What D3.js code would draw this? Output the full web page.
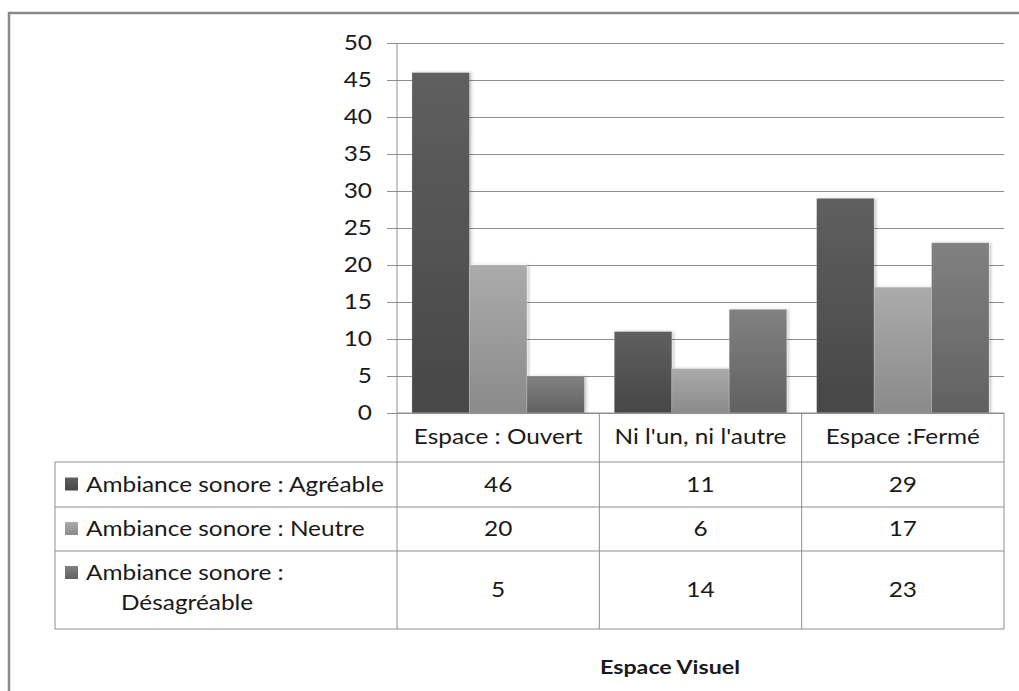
<!DOCTYPE html>
<html><head><meta charset="utf-8">
<script src="https://cdn.jsdelivr.net/npm/d3@7/dist/d3.min.js"></script>
<style>html,body{margin:0;padding:0;background:#fff;}svg{display:block;}</style>
</head><body>
<svg id="c" width="1019" height="691"></svg>
<script>
const categories = ["Espace : Ouvert", "Ni l'un, ni l'autre", "Espace :Fermé"];
const seriesNames = ["Ambiance sonore : Agréable", "Ambiance sonore : Neutre", "Ambiance sonore : Désagréable"];
const agreable = [46, 11, 29];
const neutre = [20, 6, 17];
const desagreable = [5, 14, 23];
const yTicks = [0, 5, 10, 15, 20, 25, 30, 35, 40, 45, 50];
const axisTitle = "Espace Visuel";

const seriesValues = [agreable, neutre, desagreable];
const svg = d3.select("#c");
const FONT = "Lato, 'Open Sans', sans-serif";
const SX = 1.19;
const FS = 20.5;
const textCol = "#1a1a1a";
const lineCol = "#8e8e8e";

const plotL = 397, plotR = 1004, plotT = 43, plotB = 413;
const rowLines = [413, 462, 507, 551, 629];
const tableL = 55;

// gradients
const defs = svg.append("defs");
const grad = [["#5f5f5f", "#474747"], ["#ababab", "#8a8a8a"], ["#818181", "#616161"]];
grad.forEach((g, i) => {
  const lg = defs.append("linearGradient").attr("id", "g" + i).attr("x1", 0).attr("y1", 0).attr("x2", 0).attr("y2", 1);
  lg.append("stop").attr("offset", "0%").attr("stop-color", g[0]);
  lg.append("stop").attr("offset", "100%").attr("stop-color", g[1]);
});
const f = defs.append("filter").attr("id", "sh").attr("x", "-20%").attr("y", "-5%").attr("width", "140%").attr("height", "110%");
f.append("feDropShadow").attr("dx", 2).attr("dy", 0).attr("stdDeviation", 1.5).attr("flood-color", "#000").attr("flood-opacity", 0.22);

// outer border
svg.append("path").attr("d", "M9,700 L9,13 L1030,13").attr("fill", "none").attr("stroke", "#8a8a8a").attr("stroke-width", 2.5);

const y = d3.scaleLinear().domain([0, 50]).range([plotB, plotT]);
const x0 = d3.scaleBand().domain(categories).range([plotL, plotR]);
const bw = x0.bandwidth();
const x1 = d3.scaleBand().domain(seriesNames).range([bw * 0.074, bw * 0.926]);

// gridlines + tick labels
const ax = svg.append("g").attr("transform", "translate(387,0)")
  .call(d3.axisLeft(y).tickValues(yTicks).tickSize(-(plotR - 387)).tickPadding(15).tickFormat(d3.format("d")));
ax.select(".domain").remove();
ax.selectAll(".tick line").attr("stroke", lineCol).attr("stroke-width", 1);
ax.selectAll(".tick text").attr("fill", textCol).attr("font-family", FONT).attr("font-size", FS)
  .attr("dy", "0.34em")
  .each(function () {
    const t = d3.select(this);
    const xx = +t.attr("x");
    t.attr("x", null).attr("transform", `translate(${xx},0) scale(${SX},1)`);
  });

// bars
const groups = svg.append("g").selectAll("g").data(categories).join("g")
  .attr("transform", d => `translate(${x0(d)},0)`);
groups.selectAll("rect").data((c, ci) => seriesNames.map((s, si) => ({ s, si, v: seriesValues[si][ci] })))
  .join("rect")
  .attr("x", d => x1(d.s)).attr("width", x1.bandwidth())
  .attr("y", d => y(d.v)).attr("height", d => y(0) - y(d.v))
  .attr("fill", d => `url(#g${d.si})`)
  .attr("stroke", "rgba(255,255,255,0.18)").attr("stroke-width", 1)
  .attr("filter", "url(#sh)");

// table lines
const tl = svg.append("g").attr("stroke", lineCol).attr("stroke-width", 1).attr("fill", "none");
tl.append("line").attr("x1", plotL).attr("x2", plotL).attr("y1", plotT).attr("y2", rowLines[4]);
tl.append("line").attr("x1", plotL).attr("x2", plotR).attr("y1", plotB).attr("y2", plotB);
categories.forEach(c => {
  tl.append("line").attr("x1", x0(c) + bw).attr("x2", x0(c) + bw).attr("y1", plotB).attr("y2", rowLines[4]);
});
rowLines.slice(1).forEach(r => {
  tl.append("line").attr("x1", tableL).attr("x2", plotR).attr("y1", r).attr("y2", r);
});
tl.append("line").attr("x1", tableL).attr("x2", tableL).attr("y1", rowLines[1]).attr("y2", rowLines[4]);

function txt(g, s, xx, yy, anchor, opts = {}) {
  return g.append("text").text(s)
    .attr("transform", `translate(${xx},${yy}) scale(${SX},1)`)
    .attr("text-anchor", anchor).attr("dy", "0.35em")
    .attr("font-family", FONT).attr("font-size", opts.size || FS)
    .attr("font-weight", opts.weight || "normal").attr("fill", textCol);
}
const tg = svg.append("g");
categories.forEach(c => txt(tg, c, x0(c) + bw / 2, 437, "middle"));
const rowCenters = [484.5, 529, 590];
seriesNames.forEach((s, si) => {
  const rc = rowCenters[si];
  const sqY = si === 2 ? 573 : rc;
  tg.append("rect").attr("x", 65).attr("y", sqY - 7).attr("width", 13).attr("height", 13)
    .attr("fill", `url(#g${si})`);
  if (si === 2) {
    txt(tg, "Ambiance sonore :", 86, 573, "start");
    txt(tg, "Désagréable", 121, 603, "start");
  } else {
    txt(tg, s, 86, rc, "start");
  }
  categories.forEach((c, ci) => txt(tg, seriesValues[si][ci], x0(c) + bw / 2, rc, "middle"));
});
txt(tg, axisTitle, 670, 667, "middle", { weight: "bold", size: 19.5 });
</script>
</body></html>
